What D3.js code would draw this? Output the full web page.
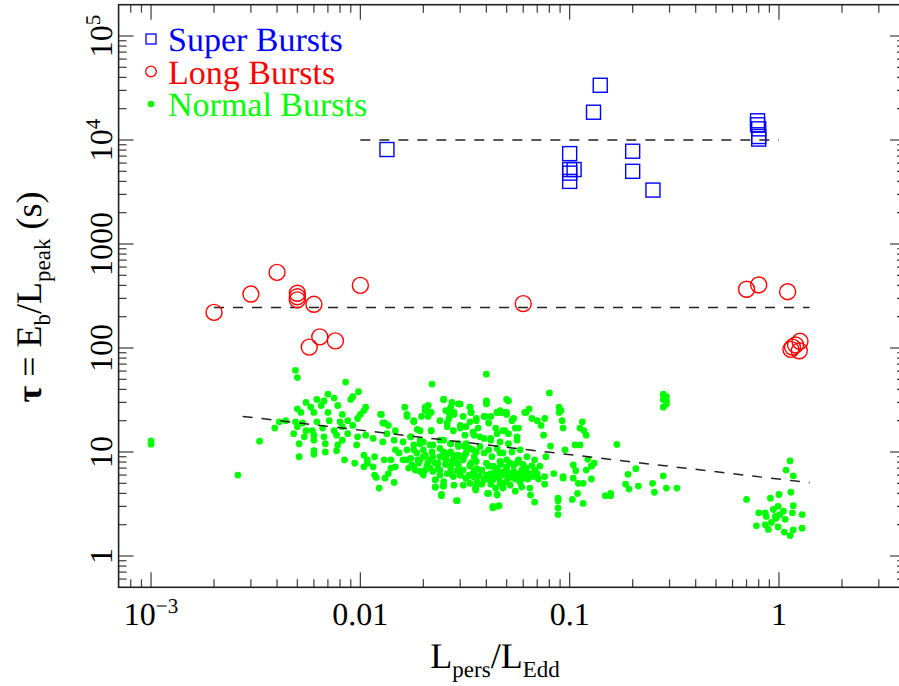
<!DOCTYPE html>
<html>
<head>
<meta charset="utf-8">
<script src="https://cdn.jsdelivr.net/npm/d3@7"></script>
<style>
  @font-face { font-family: 'ChartSerif'; src: local('Liberation Serif'), local('LiberationSerif'), local('Liberation Serif Regular'), local('LiberationSerif-Regular'); font-weight: normal; }
  @font-face { font-family: 'ChartSerif'; src: local('Liberation Serif Bold'), local('LiberationSerif-Bold'); font-weight: bold; }
  body { margin: 0; background: #fff; }
  svg text { font-family: 'ChartSerif', 'Liberation Serif', serif; text-rendering: geometricPrecision; font-kerning: none; }
</style>
</head>
<body>
<svg id="chart" width="899" height="686"></svg>
<script>
// ---- data ----
// [L_pers/L_Edd, tau (s)]
const superBursts = [
  [0.0134, 8100], [0.14, 33600], [0.13, 18500], [0.1, 7400], [0.1, 5200], [0.105, 5200],
  [0.1, 4800], [0.1, 4000], [0.2, 7800], [0.2, 5000], [0.25, 3300],
  [0.79, 15300], [0.79, 14000], [0.8, 12800], [0.8, 10800], [0.8, 10200]
];
const longBursts = [
  [0.002, 220], [0.003, 330], [0.004, 534], [0.005, 336], [0.005, 311], [0.005, 290],
  [0.006, 263], [0.01, 400], [0.06, 267], [0.0064, 128], [0.0057, 102], [0.0076, 117],
  [0.70, 367], [0.80, 404], [1.10, 348], [1.16, 102], [1.20, 107], [1.26, 116], [1.25, 94], [1.14, 97]
];
const normalBursts = [
  [0.001,12.8],[0.001,11.9],[0.0026,6.0],[0.0033,12.7],
  [0.0049,61],[0.005,52],[0.0085,47],[0.0098,38],[0.022,45],[0.04,56],[0.04,30],[0.025,32],
  [0.007,36],[0.0075,33],[0.0062,32],[0.0067,31],[0.0055,30],[0.005,26],[0.0058,27],[0.0065,28],[0.0078,28],[0.009,32],
  [0.0092,34],[0.0106,27],[0.0104,25],[0.01,23],[0.0082,23],[0.007,24],[0.006,24],[0.0052,24],[0.0053,19],[0.0062,19.5],
  [0.0071,20],[0.008,19.5],[0.0087,20],[0.0097,21],[0.0059,16],[0.0066,17],[0.0075,16],[0.0082,17.5],[0.0092,18],[0.0055,16],
  [0.0048,15],[0.0039,17],[0.0041,19.5],[0.0044,20],[0.0067,14],[0.0068,12],[0.0082,13],[0.0097,14],[0.0106,14.5],[0.0115,13.5],
  [0.0051,12],[0.006,10.3],[0.006,9.5],[0.0068,10],[0.0077,10.3],[0.0051,9],[0.0084,8.4],[0.0094,7.8],[0.0104,9.3],[0.0108,8.4],
  [0.0117,9],[0.0117,6],[0.0119,5.7],[0.0123,4.5],[0.0131,5.6],[0.0136,6.2],[0.014,7],[0.0145,5.1],[0.013,8.4],[0.014,8.4],
  [0.0128,12.5],[0.0131,19],[0.0126,23],[0.0136,18],[0.0147,16],[0.016,12.5],[0.0147,10.5],[0.0163,27],[0.0167,22],[0.018,19.5],
  [0.0193,16],[0.018,11.7],[0.0167,10.5],[0.0174,8.7],[0.017,7],[0.018,7.2],[0.0193,6.5],[0.02,9],[0.0208,27],[0.0211,22],
  [0.02,12.5],[0.0218,16],[0.0228,5.4],[0.0228,4.6],[0.0248,4.7],[0.0244,3.9],[0.0288,3.4],[0.0356,4.6],[0.0356,4.4],[0.0405,4],
  [0.043,2.9],[0.0455,3],[0.045,3.9],[0.048,4.5],
  [0.0256,25],[0.027,27],[0.028,24],[0.0294,29],[0.031,22],[0.0334,27],[0.0338,24],[0.0358,20],[0.039,22],[0.042,22],
  [0.045,24],[0.048,24],[0.05,32],[0.026,17.5],[0.0278,16],[0.03,17],[0.0316,14.5],[0.0345,15.5],[0.0373,14],[0.042,13.5],
  [0.045,15],[0.049,16],[0.025,13],[0.027,12],[0.0294,12],[0.0316,11.3],[0.0334,10.8],[0.0358,10],[0.039,9.8],[0.0425,9],
  [0.0465,9.8],[0.05,8.4],[0.0215,8.4],[0.0228,7.8],[0.0256,8.7],[0.0274,8.1],[0.0294,7.5],[0.031,8.4],[0.0334,7.3],[0.0358,8.1],
  [0.038,6.7],[0.041,7.3],[0.0443,6.5],[0.047,6.2],[0.051,5.8],[0.024,6.7],[0.027,6.2],[0.03,6],[0.032,5.6],[0.0345,6.2],
  [0.039,5.4],[0.043,5.4],[0.048,5],[0.0215,7],[0.0204,6.7],[0.019,7.8],[0.02,10.5],[0.0222,11.7],[0.024,10.8],[0.027,10],
  [0.0294,9.3],[0.032,9.8],[0.035,9],[0.0265,21],[0.024,20],[0.0218,24],[0.0204,25],
  [0.0125,23],[0.0128,19],[0.0134,15],[0.0145,13],[0.0153,9.8],[0.0147,7.2],[0.016,8.4],[0.0186,9.8],[0.0188,8.4],[0.0174,14],[0.0193,13],
  [0.0049,19.5],[0.005,17.5],[0.0054,14],[0.006,14.5],[0.0077,14.5],[0.0087,15],[0.0096,11.7],[0.0078,11.7],[0.006,13],[0.0104,7.2],[0.0108,7.8],[0.0115,7.2],
  [0.08,37],[0.089,27],[0.089,24],[0.091,25],[0.092,20],[0.093,17],[0.066,21],[0.07,20],[0.076,21],[0.061,24],
  [0.064,26],[0.073,18],[0.075,14.5],[0.081,11.4],[0.051,31],[0.0465,25],[0.05,24],[0.054,21],[0.057,17],[0.056,14],
  [0.051,15],[0.112,17],[0.115,19.5],[0.12,14.5],[0.117,16],[0.106,11.7],[0.112,11.7],[0.095,10.5],[0.122,8.5],[0.127,7.3],
  [0.131,7.8],[0.12,6.7],[0.104,7.5],[0.107,6.6],[0.093,5.8],[0.104,5.6],[0.11,5],[0.116,5],[0.127,5.5],[0.109,4],
  [0.116,3.2],[0.103,3.5],[0.088,3.6],[0.088,3.4],[0.088,2.9],[0.088,2.5],[0.068,3.3],[0.084,6.2],[0.076,5.8],[0.076,4.9],
  [0.093,5.6],[0.168,11.8],[0.207,6.9],[0.19,6.1],[0.185,4.9],[0.192,4.4],[0.213,4.7],[0.249,5],[0.254,4.1],[0.28,5.9],
  [0.29,4.5],[0.325,4.5],[0.148,3.8],[0.157,3.8],[0.157,4.0],[0.28,36],[0.29,34],[0.28,32],[0.29,31],[0.28,27],[0.29,29],
  [1.13,8.2],[1.08,6.7],[1.17,5.9],[1.14,4.1],[0.7,3.5],[0.91,3.6],[1.0,3.9],[0.8,2.6],[0.86,2.6],[0.87,2.4],
  [0.94,2.8],[0.99,3.0],[1.05,2.7],[1.01,2.5],[0.96,2.4],[1.07,2.25],[1.16,2.6],[1.17,3.05],[1.29,2.5],[0.78,1.95],
  [0.86,2.0],[0.89,1.8],[0.99,1.9],[1.06,1.7],[1.13,1.57],[1.17,1.78],[1.29,1.85],[0.92,2.1],[0.97,2.3],
  [0.0167,23],[0.018,20],[0.0204,27],[0.0211,28],[0.0196,22],[0.0187,16.5],[0.0218,16],[0.025,32],[0.0274,30],[0.03,29],
  [0.0334,27],[0.0338,24],[0.0334,19.5],[0.0358,21],[0.0395,22],[0.04,31],[0.04,29],[0.045,24],[0.047,24],[0.05,23],
  [0.053,20],[0.055,17],[0.056,13],[0.062,24],[0.0265,24],[0.028,23],[0.026,19],[0.03,18],[0.032,17.5],[0.0365,17],
  [0.041,19],[0.0443,17],[0.048,16],[0.035,14.5],[0.039,13.5],[0.042,13],[0.0465,12.5],[0.051,12],[0.0373,11.3],[0.041,10.5],
  [0.045,10.8],[0.048,9.8],[0.053,10],[0.058,10.5],[0.0625,9],[0.068,8.4],[0.072,7.3],[0.077,9],[0.057,8.4],[0.052,7.8],
  [0.0465,8.1],[0.043,7.3],[0.04,7.8],[0.038,6.7],[0.042,6.2],[0.0455,6.5],[0.049,6],[0.054,6.5],[0.059,6.7],[0.064,6.2],
  [0.068,6.7],[0.067,5.8],[0.06,5.6],[0.055,5.5],[0.05,5.2],[0.0465,5],[0.0443,4.5],[0.048,4.6],[0.055,4.2],[0.059,4.6],
  [0.0645,4.5],[0.065,3.85],[0.041,4],[0.045,3.85],[0.043,3.0],[0.046,3.05],[0.029,3.4],[0.0244,3.8],[0.0228,4.6],[0.025,4.7],
  [0.0356,4.3],[0.038,4.9],[0.0356,4.5],
  [0.018,10.5],[0.0193,8.4],[0.0208,7.3],[0.0222,9],[0.0235,7.8],[0.0256,8.4],[0.027,7.3],[0.0288,7.8],[0.031,6.7],[0.0334,7.5],
  [0.035,6.5],[0.0222,6.5],[0.024,6],[0.026,6.2],[0.0278,5.8],[0.03,6],[0.032,5.6],[0.0345,5.8],[0.0228,5.4],[0.025,5.2],
  [0.031,4.8],[0.028,4.8],[0.0334,5],[0.0193,12],[0.0215,11.7],[0.024,13],[0.027,12],[0.0294,11.3],[0.032,12],[0.0345,10.5],
  [0.0316,9.3],[0.0278,9.3],[0.025,10],[0.0204,9.3],[0.0174,14],[0.0167,8.4],[0.0183,6.7],[0.02,6],[0.0176,7.5],
  // denser core near 0.03-0.07, tau 5-8
  [0.044,5.9],[0.046,5.6],[0.048,6.4],[0.05,6.8],[0.052,6.1],[0.053,5.7],[0.056,6.2],[0.058,5.9],[0.061,6.4],[0.063,5.5],
  [0.045,7.0],[0.047,7.6],[0.05,7.2],[0.054,7.4],[0.056,7.9],[0.06,7.6],[0.062,7.0],[0.066,7.4],[0.07,6.2],[0.071,5.5],
  [0.04,6.0],[0.041,5.5],[0.037,5.9],[0.036,6.9],[0.034,7.9],[0.03,8.9],[0.028,8.6],[0.026,9.6],[0.024,9.0],[0.022,10.0],
  [0.029,6.6],[0.027,7.0],[0.0255,7.6],[0.0235,6.9],[0.021,7.9],[0.033,6.0],[0.036,5.2],[0.042,4.9],[0.052,4.8],[0.058,5.1]
];
// dashed reference lines: [[L0, tau0], [L1, tau1]]
const fitLines = [
  [[0.01, 1.0e4], [1.0, 1.0e4]],
  [[0.002, 245], [1.4, 245]],
  [[0.00274, 22], [1.4, 5.07]]
];
const xTicks = [1e-3, 0.01, 0.1, 1];
const xTickLabels = ["10^−3", "0.01", "0.1", "1"];
const yTicks = [1, 10, 100, 1000, 1e4, 1e5];
const yTickLabels = ["1", "10", "100", "1000", "10^4", "10^5"];
const legendItems = [
  {label: "Super Bursts", color: "#0000ff", shape: "square"},
  {label: "Long Bursts", color: "#ff0000", shape: "circle"},
  {label: "Normal Bursts", color: "#00ff00", shape: "dot"}
];

// ---- layout ----
const plot = {left: 118.6, right: 905, top: 4.7, bottom: 587.3};
const svg = d3.select('#chart');

const x = d3.scaleLog().domain([7e-4, 4]).range([plot.left, plot.right]);
const y = d3.scaleLog().domain([0.5, 2e5]).range([plot.bottom, plot.top]);

// minor tick values: 2..9 times each decade, inside the domain
function minorTicks(scale) {
  const [a, b] = scale.domain();
  const out = [];
  for (let e = Math.floor(Math.log10(a)); e <= Math.ceil(Math.log10(b)); e++) {
    for (let k = 2; k <= 9; k++) {
      const v = k * Math.pow(10, e);
      if (v > a && v < b) out.push(v);
    }
  }
  return out;
}

function addText(parent, size, color) {
  return parent.append('text')
    .attr('font-size', size)
    .attr('fill', color || '#000');
}

// text with ^superscript
function supText(sel, str, supSize, rise) {
  const parts = str.split('^');
  sel.append('tspan').text(parts[0]);
  if (parts[1]) sel.append('tspan').attr('dy', -rise).attr('font-size', supSize).text(parts[1]);
}

// ---- data marks ----
const marks = svg.append('g');

marks.selectAll('circle.normal').data(normalBursts).enter().append('circle')
  .attr('class', 'normal')
  .attr('cx', d => x(d[0])).attr('cy', d => y(d[1]))
  .attr('r', 3.4).attr('fill', '#00ff00');

const line = d3.line().x(d => x(d[0])).y(d => y(d[1]));
marks.selectAll('path.fit').data(fitLines).enter().append('path')
  .attr('class', 'fit')
  .attr('d', line)
  .attr('fill', 'none').attr('stroke', '#222').attr('stroke-width', 1.5)
  .attr('stroke-dasharray', '10,9');

marks.selectAll('circle.long').data(longBursts).enter().append('circle')
  .attr('class', 'long')
  .attr('cx', d => x(d[0])).attr('cy', d => y(d[1]))
  .attr('r', 8).attr('fill', 'none').attr('stroke', '#ff0000').attr('stroke-width', 1.4);

const sq = 14;
marks.selectAll('rect.super').data(superBursts).enter().append('rect')
  .attr('class', 'super')
  .attr('x', d => x(d[0]) - sq / 2).attr('y', d => y(d[1]) - sq / 2)
  .attr('width', sq).attr('height', sq)
  .attr('fill', 'none').attr('stroke', '#0000ff').attr('stroke-width', 1.4);

// ---- frame and ticks ----
const ticks = svg.append('g').attr('stroke', '#3a3a3a').attr('stroke-width', 1.2);

function xTickMarks(vals, len) {
  vals.forEach(v => {
    ticks.append('line').attr('x1', x(v)).attr('x2', x(v)).attr('y1', plot.bottom).attr('y2', plot.bottom - len);
    ticks.append('line').attr('x1', x(v)).attr('x2', x(v)).attr('y1', plot.top).attr('y2', plot.top + len);
  });
}
function yTickMarks(vals, len) {
  vals.forEach(v => {
    ticks.append('line').attr('y1', y(v)).attr('y2', y(v)).attr('x1', plot.left).attr('x2', plot.left + len);
    ticks.append('line').attr('y1', y(v)).attr('y2', y(v)).attr('x1', plot.right).attr('x2', plot.right - len);
  });
}
xTickMarks(xTicks, 15);
xTickMarks(minorTicks(x), 8);
yTickMarks(yTicks, 15);
yTickMarks(minorTicks(y), 8);

svg.append('rect')
  .attr('x', plot.left).attr('y', plot.top)
  .attr('width', plot.right - plot.left).attr('height', plot.bottom - plot.top)
  .attr('fill', 'none').attr('stroke', '#222').attr('stroke-width', 1.6);

// ---- texts ----
const labels = svg.append('g');

xTicks.forEach((v, i) => {
  const t = addText(labels, 32).attr('x', x(v)).attr('y', 625).attr('text-anchor', 'middle');
  supText(t, xTickLabels[i], 21, 12);
});
yTicks.forEach((v, i) => {
  const t = addText(labels, 32)
    .attr('transform', `translate(112,${y(v)}) rotate(-90)`)
    .attr('text-anchor', 'middle');
  supText(t, yTickLabels[i], 21, 12);
});

// axis titles
const xt = addText(labels, 36).attr('x', 495).attr('y', 668).attr('text-anchor', 'middle');
xt.append('tspan').text('L');
xt.append('tspan').attr('dy', 9).attr('font-size', 23).text('pers');
xt.append('tspan').attr('dy', -9).text('/L');
xt.append('tspan').attr('dy', 9).attr('font-size', 23).text('Edd');

const yt = addText(labels, 36)
  .attr('transform', 'translate(41,297) rotate(-90)')
  .attr('text-anchor', 'middle');
yt.append('tspan').attr('font-weight', 'bold').text('τ');
yt.append('tspan').text(' = E');
yt.append('tspan').attr('dy', 9).attr('font-size', 23).text('b');
yt.append('tspan').attr('dy', -9).text('/L');
yt.append('tspan').attr('dy', 9).attr('font-size', 23).text('peak');
yt.append('tspan').attr('dy', -9).text(' (s)');

// legend
legendItems.forEach((d, i) => {
  const cy = 39 + i * 32.5;
  if (d.shape === 'square') {
    labels.append('rect').attr('x', 146).attr('y', cy - 5).attr('width', 10).attr('height', 10)
      .attr('fill', 'none').attr('stroke', d.color).attr('stroke-width', 1.3);
  } else if (d.shape === 'circle') {
    labels.append('circle').attr('cx', 151).attr('cy', cy).attr('r', 5.3)
      .attr('fill', 'none').attr('stroke', d.color).attr('stroke-width', 1.3);
  } else {
    labels.append('circle').attr('cx', 151).attr('cy', cy).attr('r', 3.3).attr('fill', d.color);
  }
  addText(labels, 34, d.color).attr('x', 168).attr('y', cy + 12).text(d.label);
});
</script>
</body>
</html>
